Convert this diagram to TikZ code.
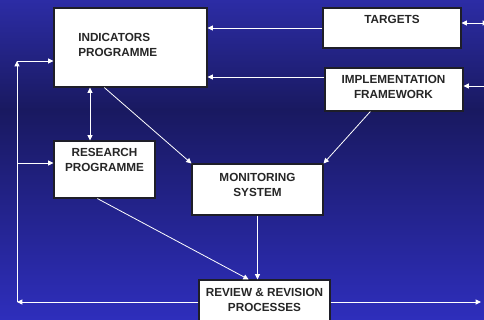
\documentclass[tikz,border=0pt]{standalone}
\usepackage{fontspec}
\setmainfont{Liberation Sans}
\usetikzlibrary{arrows.meta,positioning,calc}
\definecolor{bgtop}{RGB}{44,44,165}
\definecolor{bgmid}{RGB}{25,25,96}
\definecolor{bgbot}{RGB}{46,46,188}
\definecolor{boxline}{RGB}{30,30,40}
\begin{document}
\begin{tikzpicture}[x=0.75pt, y=-0.75pt,
    box/.style={draw=boxline, fill=white, line width=0.8pt, inner sep=0pt},
    lbl/.style={inner sep=0pt, align=center, text=black!85,
                font=\fontsize{8.8pt}{11.25pt}\selectfont\bfseries},
    arr/.style={-{Triangle[length=4pt,width=3.8pt]}, white, line width=0.6pt},
    darr/.style={{Triangle[length=4pt,width=3.8pt]}-{Triangle[length=4pt,width=3.8pt]},
                 white, line width=0.6pt}
  ]
  %% Background
  \useasboundingbox (0,0) rectangle (484,320);
  \fill[top color=bgtop, bottom color=bgmid] (0,0) rectangle (484,110);
  \fill[top color=bgmid, bottom color=bgbot] (0,109.5) rectangle (484,320);
  %% Boxes
  \node[box, minimum width=114.75pt, minimum height=59.25pt] (ind)  at (130.5, 47.5) {};
  \node[box, minimum width=103.5pt,  minimum height=30pt]    (tgt)  at (392, 28)     {};
  \node[box, minimum width=103.5pt,  minimum height=32.25pt] (impl) at (394, 89.5)   {};
  \node[box, minimum width=75.75pt,  minimum height=42.75pt] (res)  at (104.5, 169.5) {};
  \node[box, minimum width=98.25pt,  minimum height=38.25pt] (mon)  at (257.5, 189.5) {};
  \node[box, minimum width=98.25pt,  minimum height=34.5pt]  (rev)  at (264.5, 303)  {};
  %% Box texts
  \node[lbl, align=left, anchor=west] (indt) at (78, 45)     {INDICATORS\\PROGRAMME};
  \node[lbl] (tgtt)  at (392, 19.5)   {TARGETS};
  \node[lbl] (implt) at (393.5, 87)   {IMPLEMENTATION\\FRAMEWORK};
  \node[lbl] (rest)  at (104.5, 159.5) {RESEARCH\\PROGRAMME};
  \node[lbl] (mont)  at (257.5, 184.5) {MONITORING\\SYSTEM};
  \node[lbl] (revt)  at (264.5, 299.5) {REVIEW \& REVISION\\PROCESSES};
  %% Helper coordinates
  \coordinate (j1) at (300, 77);
  \coordinate (e1) at (488, 23);
  \coordinate (e2) at (486, 86);
  \coordinate (l1) at (17, 61);
  \coordinate (l2) at (17, 163);
  \coordinate (l3) at (17, 302);
  \coordinate (r1) at (481, 302);
  \coordinate (v1) at (90, 0);
  %% Inputs to the indicators programme
  \draw[arr] (tgt.west) -- (tgt.west -| ind.east);
  \draw[arr] (impl.west |- j1) -- (ind.east |- j1);
  \draw[darr] (tgt.east |- e1) -- (e1);
  \draw[arr] (e2) -- (impl.east |- e2);
  \draw[darr] (ind.south -| v1) -- (res.north -| v1);
  %% Into the monitoring system
  \draw[arr] ($(ind.south west)!0.33!(ind.south east)$) -- (mon.north west);
  \draw[arr] ($(impl.south west)!0.33!(impl.south east)$) -- (mon.north east);
  %% Into review and revision
  \draw[arr] (mon.south) -- (mon.south |- rev.north);
  \draw[arr] ($(res.south west)!0.43!(res.south east)$) -- ($(rev.north west)!0.38!(rev.north east)$);
  %% Feedback loop
  \draw[arr] (rev.west |- l3) -- (l3);
  \draw[arr] (l3) -- (l1);
  \draw[arr] (l1) -- (l1 -| ind.west);
  \draw[arr] (l2) -- (l2 -| res.west);
  \draw[arr] (rev.east |- r1) -- (r1);
\end{tikzpicture}
\end{document}
